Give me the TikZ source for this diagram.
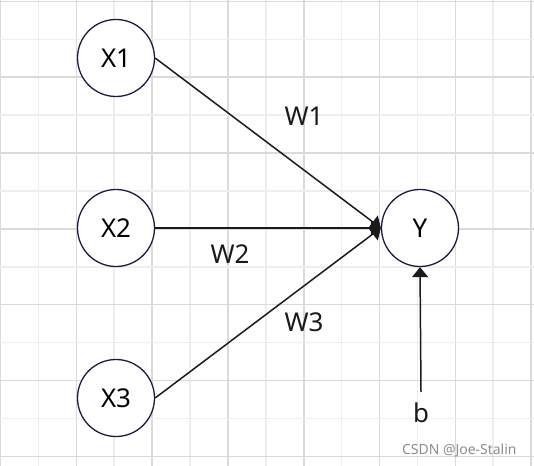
\documentclass[tikz,border=0pt]{standalone}
\usepackage{fontspec}
\setmainfont{Noto Sans}
\usetikzlibrary{arrows.meta,positioning}

\definecolor{ringblue}{RGB}{24,28,66}
\definecolor{linedark}{RGB}{26,26,26}
\definecolor{gridmajor}{RGB}{218,218,218}
\definecolor{gridminor}{RGB}{238,238,238}

\tikzset{
    neuron/.style={circle, draw=ringblue, line width=1.3pt, fill=white,
                   minimum size=77bp, inner sep=0pt, font=\fontsize{26}{29}\selectfont},
    weight/.style={font=\fontsize{26}{29}\selectfont, text=linedark},
    link/.style={draw=linedark, line width=1.5pt, -{Triangle[length=10bp,width=16bp]}}
}

\begin{document}
\begin{tikzpicture}[x=1bp, y=-1bp]
    \useasboundingbox (0,0) rectangle (534,466);
    \fill[white] (0,0) rectangle (534,466);

    % Grid
    \foreach \i in {0,...,14} {
        \pgfmathsetmacro{\gx}{0.5+37.9*\i}
        \pgfmathparse{int(mod(\i,2))}
        \ifnum\pgfmathresult=0
            \draw[gridmajor, line width=1.6pt] (\gx,0) -- (\gx,466);
        \else
            \draw[gridminor, line width=1.6pt] (\gx,0) -- (\gx,466);
        \fi
    }
    \foreach \j in {0,...,12} {
        \pgfmathsetmacro{\gy}{1.5+37.9*\j}
        \pgfmathparse{int(mod(\j,2))}
        \ifnum\pgfmathresult=0
            \draw[gridmajor, line width=1.6pt] (0,\gy) -- (534,\gy);
        \else
            \draw[gridminor, line width=1.6pt] (0,\gy) -- (534,\gy);
        \fi
    }

    % Nodes {X1, X2, X3, Y, b}
    \node [neuron]  (x1)  at (116,58)   {X1};
    \node [neuron]  (x2)  at (116,228)  {X2};
    \node [neuron]  (x3)  at (116,398)  {X3};
    \node [neuron]  (y)   at (420,228)  {Y};
    \node [weight, inner sep=0pt] (b) at (421,413) {b};
    \coordinate (bias) at (421,392);

    % Weights
    \node [weight]  (w1)  at (304,116)  {W1};
    \node [weight]  (w2)  at (230,254)  {W2};
    \node [weight]  (w3)  at (304,322)  {W3};

    % Paths
    \path [link]  (x1.east) -- (y.west);
    \path [link]  (x2.east) -- (y.west);
    \path [link]  (x3.east) -- (y.west);
    \path [link]  (bias) -- (y.south);

    % Watermark
    \node [text=black!45, font=\fontsize{14}{16}\selectfont, anchor=east] (mark) at (520,451) {CSDN @Joe-Stalin};
\end{tikzpicture}
\end{document}
